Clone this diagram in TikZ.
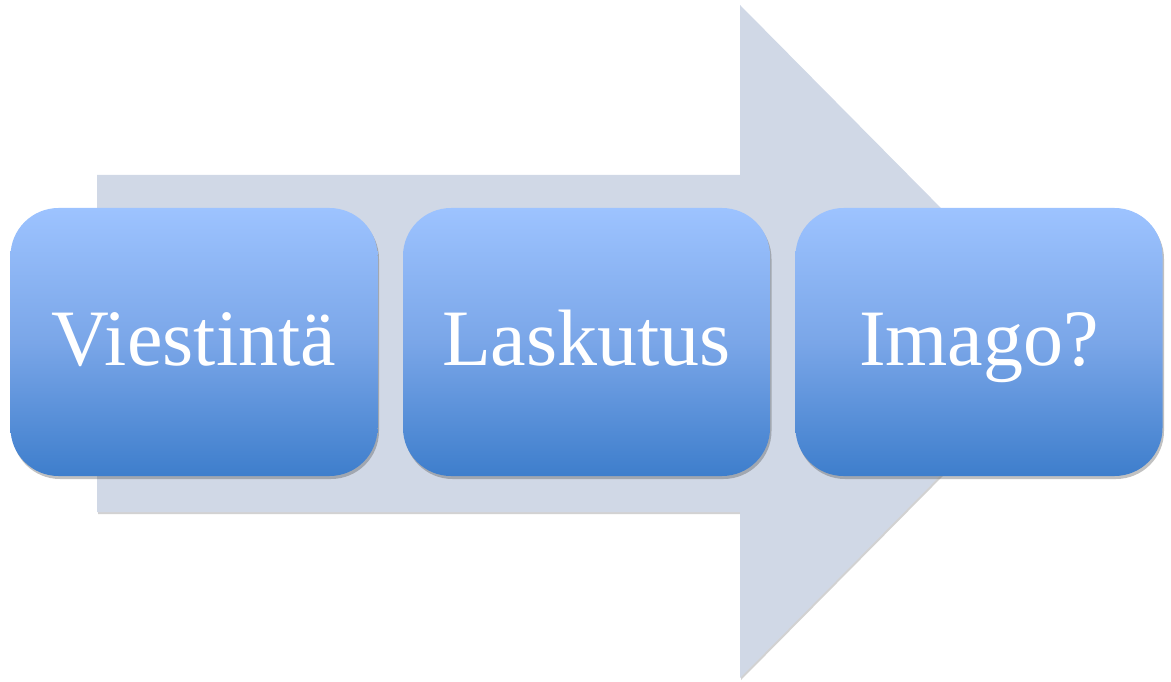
\documentclass[tikz,border=0pt]{standalone}
\usepackage{fontspec}
\setmainfont{Liberation Serif}
\usetikzlibrary{shadows}
\definecolor{arrowfill}{RGB}{208,216,230}
\definecolor{boxtop}{RGB}{157,195,255}
\definecolor{boxmid}{RGB}{122,166,232}
\definecolor{boxbot}{RGB}{62,126,204}
\tikzset{
  stepbox/.style={rounded corners=48pt, minimum width=367pt, minimum height=268pt,
    top color=boxtop, bottom color=boxbot, middle color=boxmid, text=white,
    font=\fontsize{80}{84}\selectfont, text height=47pt, text depth=0pt, inner sep=0pt,
    drop shadow={shadow xshift=1.5pt, shadow yshift=-3pt, opacity=0.35, fill=black!70}},
  bigarrow/.style={fill=arrowfill, draw=none,
    drop shadow={shadow xshift=1pt, shadow yshift=-2pt, opacity=0.25, fill=black!70}}
}
\begin{document}
\begin{tikzpicture}[x=1pt, y=-1pt]
\useasboundingbox (0,0) rectangle (1171,682);
\fill[bigarrow] (97,175) -- (740,175) -- (740,5) -- (1073,341.5) -- (740,678) -- (740,512) -- (97,512) -- cycle;
\node[stepbox] (v) at (194,342) {Viestintä};
\node[stepbox] (l) at (586.5,342) {Laskutus};
\node[stepbox] (i) at (979,342) {Imago?};
\end{tikzpicture}
\end{document}
